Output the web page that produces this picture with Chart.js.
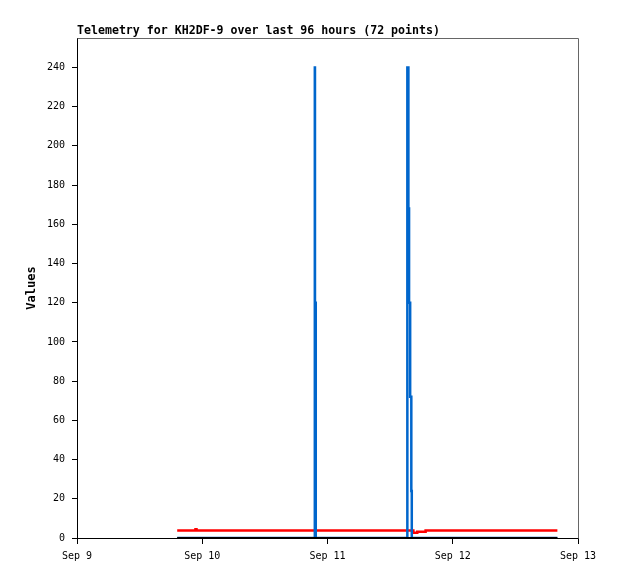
<!DOCTYPE html>
<html><head><meta charset="utf-8">
<script src="https://cdn.jsdelivr.net/npm/chart.js@4.4.1/dist/chart.umd.min.js"></script>
<style>html,body{margin:0;padding:0;background:#fff}#wrap{width:618px;height:579px}</style>
</head><body><div id="wrap"><canvas id="c" width="618" height="579"></canvas></div>
<script>
const titleText = 'Telemetry for KH2DF-9 over last 96 hours (72 points)';
const yAxisTitle = 'Values';
const dayLabels = ['Sep 9', 'Sep 10', 'Sep 11', 'Sep 12', 'Sep 13'];
const yTickValues = [0, 20, 40, 60, 80, 100, 120, 140, 160, 180, 200, 220, 240];
// hours since Sep 9 00:00 (value changes at each listed hour)
const blueHours  = [19.2, 45.57, 45.6, 45.75, 63.3, 63.5, 63.63, 63.84, 64.06, 64.15, 92.05];
const blueValues = [0,    240,   120,  0,     240,  168,  120,   72,    24,    0,     0];
const redHours   = [19.2, 22.7, 22.9, 64.45, 65.2, 66.8, 92.05];
const redValues  = [3.8,  4.4,  3.8,  2.7,   3.2,  3.8,  3.8];
const blackHours  = [19.2, 92.05];
const blackValues = [0, 0];

const FONT = '"DejaVu Sans Mono", "Liberation Mono", monospace';
const pts = (xs, ys) => xs.map((x, i) => ({ x: x, y: ys[i] }));

const framePlugin = {
  id: 'frame',
  afterDraw(chart) {
    const { ctx, chartArea: a } = chart;
    ctx.save();
    ctx.strokeStyle = '#666';
    ctx.lineWidth = 1;
    ctx.beginPath();
    ctx.moveTo(Math.round(a.left) + 0.5, Math.round(a.top) + 0.5);
    ctx.lineTo(Math.round(a.right) + 0.5, Math.round(a.top) + 0.5);
    ctx.lineTo(Math.round(a.right) + 0.5, Math.round(a.bottom) + 0.5);
    ctx.stroke();
    ctx.fillStyle = '#000';
    ctx.font = 'bold 11.6px ' + FONT;
    ctx.textBaseline = 'middle';
    ctx.textAlign = 'left';
    ctx.fillText(titleText, a.left, a.top - 7);
    ctx.restore();
  }
};

new Chart(document.getElementById('c'), {
  type: 'line',
  data: {
    datasets: [
      { label: 'black', data: pts(blackHours, blackValues), borderColor: '#000000', borderWidth: 2, order: 0 },
      { label: 'blue', data: pts(blueHours, blueValues), borderColor: '#0066cc', borderWidth: 2.5, stepped: 'before', order: 1 },
      { label: 'red', data: pts(redHours, redValues), borderColor: '#ff0000', borderWidth: 2.5, stepped: 'before', order: 2 }
    ]
  },
  options: {
    responsive: false,
    animation: false,
    devicePixelRatio: 1,
    layout: { padding: { top: 38, right: 40, left: 0, bottom: 0 } },
    elements: { point: { radius: 0 }, line: { tension: 0, fill: false } },
    plugins: { legend: { display: false }, tooltip: { enabled: false }, title: { display: false } },
    scales: {
      x: {
        type: 'linear', min: 0, max: 96,
        afterFit(s) { s.height = 41; },
        grid: { drawOnChartArea: false, tickLength: 6, color: '#000' },
        border: { display: true, color: '#000' },
        ticks: {
          stepSize: 24, padding: 6, color: '#000', maxRotation: 0, autoSkip: false,
          font: { family: FONT, size: 10 },
          callback: (v) => dayLabels[Math.round(v / 24)]
        }
      },
      y: {
        min: 0, max: 255,
        afterFit(s) { s.width = 77; },
        afterBuildTicks(s) { s.ticks = yTickValues.map(v => ({ value: v })); },
        grid: { drawOnChartArea: false, tickLength: 5, color: '#000' },
        border: { display: true, color: '#000' },
        title: { display: true, text: yAxisTitle, color: '#000', font: { family: FONT, size: 12, weight: 'bold' }, padding: { top: 25, bottom: 0 } },
        ticks: { padding: 7, color: '#000', font: { family: FONT, size: 10 } }
      }
    }
  },
  plugins: [framePlugin]
});
</script>
</body></html>
